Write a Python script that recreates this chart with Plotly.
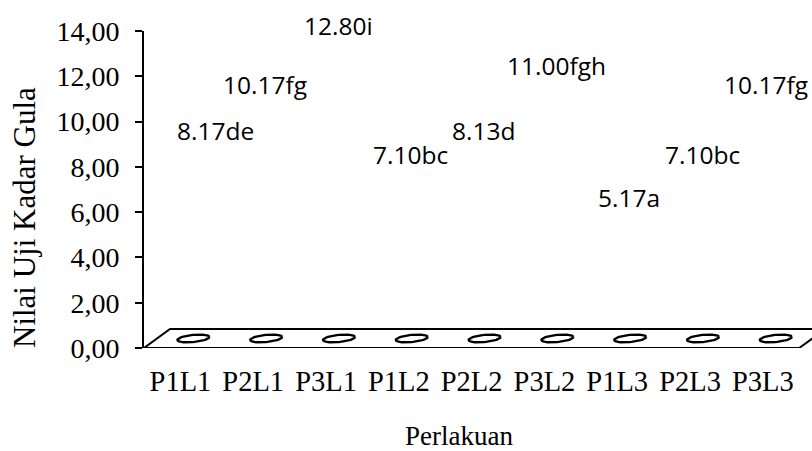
import numpy as np
import plotly.graph_objects as go

# Treatment combinations and measured sugar content
categories = ["P1L1", "P2L1", "P3L1", "P1L2", "P2L2", "P3L2", "P1L3", "P2L3", "P3L3"]
values = [8.17, 10.17, 12.80, 7.10, 8.13, 11.00, 5.17, 7.10, 10.17]
letters = ["de", "fg", "i", "bc", "d", "fgh", "a", "bc", "fg"]
y_ticks = [0, 2, 4, 6, 8, 10, 12, 14]

# Canvas geometry (pixels)
W, H = 812, 451
ML, MT, MB = 144, 31, 103
MR = 0
plot_w = W - ML - MR
plot_h = H - MT - MB
cat_px = 72.8                      # width of one category slot
x_max = -0.5 + plot_w / cat_px     # extend the axis to the right edge
y_px = plot_h / 14.0               # pixels per y unit

# 3-D depth of the floor, expressed in axis units
DX = 26 / cat_px
DY = 19 / y_px

fig = go.Figure()

# Floor of the 3-D chart
n = len(categories)
fx = [-0.5, -0.5 + DX, n - 0.5 + DX, n - 0.5, -0.5]
fy = [0, DY, DY, 0, 0]
fig.add_trace(go.Scatter(x=fx, y=fy, mode="lines", line=dict(color="black", width=2),
                         hoverinfo="skip", showlegend=False))

# Cylinder bases drawn on the floor
t = np.linspace(0, 2 * np.pi, 60)
rx, ry = 16 / cat_px, 3.6 / y_px
shear = 1.5 / y_px
for i in range(n):
    cx, cy = i + DX / 2, DY / 2
    ex = cx + rx * np.cos(t)
    ey = cy + ry * np.sin(t) + shear * np.cos(t)
    fig.add_trace(go.Scatter(x=ex, y=ey, mode="lines", line=dict(color="black", width=2.3),
                             hoverinfo="skip", showlegend=False))

# Value labels with significance letters (first and last nudged to stay clear of edges)
nudge = {0: 23, n - 1: -9}
for i, (v, s) in enumerate(zip(values, letters)):
    fig.add_annotation(x=i, y=v, text=f"{v:.2f}{s}", showarrow=False,
                       xshift=12 + nudge.get(i, 0), yshift=33,
                       xanchor="center", yanchor="middle", borderpad=0,
                       font=dict(family="Open Sans", size=24.5, color="black"))

fig.update_layout(
    width=W, height=H,
    margin=dict(l=ML, r=MR, t=MT, b=MB, pad=0),
    paper_bgcolor="white", plot_bgcolor="white",
    separators=",.",
    showlegend=False,
    xaxis=dict(
        range=[-0.5, x_max], tickmode="array", tickvals=list(range(n)), ticktext=categories,
        showline=False, showgrid=False, zeroline=False, ticks="",
        tickfont=dict(family="Liberation Serif", size=28.5, color="black"),
        ticklabelstandoff=13, fixedrange=True,
    ),
    yaxis=dict(
        range=[0, 14], tickmode="array", tickvals=y_ticks, tickformat=".2f",
        showline=True, linecolor="black", linewidth=2, ticks="outside", ticklen=7,
        tickwidth=2, tickcolor="black", showgrid=False, zeroline=False,
        tickfont=dict(family="Liberation Serif", size=28, color="black"),
        ticklabelstandoff=10, fixedrange=True,
    ),
)

fig.add_annotation(xref="paper", yref="paper", x=(459 - ML) / plot_w, y=(348 - 436) / plot_h,
                   xanchor="center", yanchor="middle",
                   text="Perlakuan", showarrow=False,
                   font=dict(family="Liberation Serif", size=27, color="black"))
fig.add_annotation(xref="paper", yref="paper", x=(24 - ML) / plot_w, y=(348 - 218) / plot_h,
                   xanchor="center", yanchor="middle",
                   text="Nilai Uji Kadar Gula", showarrow=False, textangle=-90,
                   font=dict(family="Liberation Serif", size=31, color="black"))

fig.write_html("out.html")
